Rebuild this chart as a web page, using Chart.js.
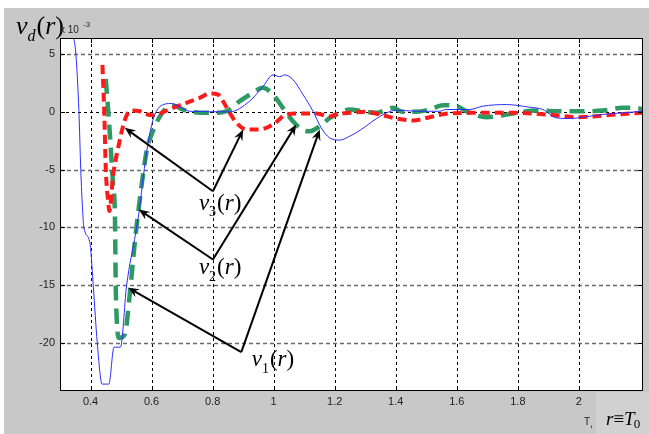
<!DOCTYPE html>
<html><head><meta charset="utf-8">
<script src="https://cdn.jsdelivr.net/npm/chart.js@4/dist/chart.umd.min.js"></script>
<style>html,body{margin:0;padding:0;background:#fff;}canvas{display:block;}</style>
</head><body>
<canvas id="c" width="649" height="434"></canvas>
<script>
// ---- data ----
const xTicks = [0.4, 0.6, 0.8, 1.0, 1.2, 1.4, 1.6, 1.8, 2.0];
const yTicks = [-20, -15, -10, -5, 0, 5];

const nu1X = [0.342,0.352,0.362,0.368,0.374,0.378,0.398,0.409,0.422,0.438,0.460,0.477,0.498,0.518,0.548,0.561,0.572,0.589,0.600,0.608,0.627,0.665,0.703,0.725,0.856,0.921,0.965,0.998,1.020,1.036,1.063,1.096,1.129,1.156,1.183,1.216,1.250,1.287,1.325,1.369,1.402,1.467,1.543,1.565,1.642,1.685,1.762,1.838,1.882,1.925,1.970,2.012,2.078,2.143,2.209];
const nu1Y = [6.8,5.0,0.0,-5.0,-8.5,-10.0,-11.35,-15.1,-20.0,-23.6,-23.6,-20.4,-20.4,-15.1,-10.5,-8.3,-5.8,-2.6,-1.2,-0.4,0.45,0.72,0.26,0.05,0.0,0.92,2.2,3.2,3.05,3.2,2.8,1.5,0.05,-1.4,-2.25,-2.45,-2.1,-1.53,-0.8,-0.1,0.14,0.05,0.05,0.2,0.2,0.49,0.63,0.4,0.2,-0.52,-0.58,-0.47,-0.23,-0.09,0.05];

const nu2X = [0.450,0.463,0.474,0.480,0.483,0.494,0.512,0.529,0.545,0.559,0.585,0.594,0.616,0.649,0.670,0.703,0.736,0.801,0.845,0.889,0.932,0.965,0.998,1.030,1.063,1.091,1.118,1.151,1.183,1.216,1.249,1.292,1.336,1.391,1.423,1.467,1.511,1.554,1.598,1.642,1.696,1.751,1.794,1.860,1.947,2.012,2.078,2.143,2.198,2.210];
const nu2Y = [2.86,-1.77,-6.4,-9.0,-15.7,-19.6,-19.3,-15.7,-11.35,-8.1,-3.2,-2.4,-0.95,0.35,0.55,0.2,-0.03,-0.09,0.05,0.92,1.65,2.08,1.5,0.35,-0.81,-1.53,-1.68,-1.25,-0.55,-0.09,0.2,0.05,-0.09,0.35,0.0,0.0,0.2,0.57,0.49,-0.09,-0.47,-0.3,-0.09,0.11,0.05,0.05,0.11,0.35,0.29,0.2];

const nu3X = [0.439,0.445,0.450,0.458,0.462,0.474,0.490,0.507,0.518,0.534,0.561,0.572,0.605,0.627,0.670,0.714,0.758,0.790,0.818,0.834,0.856,0.878,0.911,0.954,0.998,1.042,1.085,1.140,1.183,1.205,1.249,1.303,1.358,1.402,1.456,1.511,1.565,1.642,1.729,1.794,1.860,1.925,1.990,2.056,2.121,2.209];
const nu3Y = [4.07,-0.03,-4.94,-7.83,-8.6,-5.5,-3.2,-1.19,-0.32,0.11,0.05,-0.1,-0.3,-0.15,0.35,0.78,1.21,1.59,1.5,0.92,-0.09,-0.95,-1.53,-1.53,-1.1,-0.23,-0.15,-0.15,-0.4,-0.23,-0.09,0.0,-0.3,-0.58,-0.75,-0.47,-0.17,-0.09,-0.09,-0.09,-0.17,-0.3,-0.47,-0.38,-0.23,-0.09];

// annotation callouts (data coordinates)
const annSub      = ['3', '2', '1'];
const annVertexX  = [0.801, 0.801, 0.894];
const annVertexY  = [-6.88, -12.8, -20.83];
const annTipAX    = [0.512, 0.558, 0.523];
const annTipAY    = [-1.39, -8.47, -15.25];
const annTipBX    = [0.900, 1.074, 1.151];
const annTipBY    = [-1.53, -1.10, -1.53];
const annLabelX   = [0.755, 0.755, 0.928];
const annLabelY   = [-8.47, -14.1, -22.07];

const pts = (xs, ys) => xs.map((x, i) => ({x, y: ys[i]}));

const SERIF = '"Liberation Serif","DejaVu Serif",serif';
const SANS = '"Liberation Sans",Arial,sans-serif';

function drawNu(ctx, x, y, sub, size, subItalic) {
  ctx.textBaseline = 'alphabetic';
  ctx.textAlign = 'left';
  ctx.font = 'italic ' + size + 'px ' + SERIF;
  ctx.fillText('ν', x, y);
  x += ctx.measureText('ν').width;
  const ss = Math.round(size * 0.62);
  ctx.font = (subItalic ? 'italic ' : '') + ss + 'px ' + SERIF;
  ctx.fillText(sub, x, y + size * 0.28);
  x += ctx.measureText(sub).width + 1;
  ctx.font = size + 'px ' + SERIF;
  ctx.fillText('(', x, y);
  x += ctx.measureText('(').width;
  ctx.font = 'italic ' + size + 'px ' + SERIF;
  ctx.fillText('r', x, y);
  x += ctx.measureText('r').width;
  ctx.font = size + 'px ' + SERIF;
  ctx.fillText(')', x, y);
}

function arrow(ctx, x0, y0, x1, y1) {
  const ang = Math.atan2(y1 - y0, x1 - x0), L = 11, W = 4.5;
  const cx = Math.cos(ang), sy = Math.sin(ang);
  ctx.beginPath();
  ctx.moveTo(x0, y0);
  ctx.lineTo(x1 - 6 * cx, y1 - 6 * sy);
  ctx.stroke();
  ctx.beginPath();
  ctx.moveTo(x1, y1);
  ctx.lineTo(x1 - L * cx + W * sy, y1 - L * sy - W * cx);
  ctx.lineTo(x1 - 0.65 * L * cx, y1 - 0.65 * L * sy);
  ctx.lineTo(x1 - L * cx - W * sy, y1 - L * sy + W * cx);
  ctx.closePath();
  ctx.fill();
}

const decor = {
  id: 'decor',
  beforeDraw(chart) {
    const {ctx, chartArea: a, width, height} = chart;
    ctx.save();
    ctx.fillStyle = '#ffffff'; ctx.fillRect(0, 0, width, height);
    ctx.fillStyle = '#c8c8c8'; ctx.fillRect(4, 8, width - 4, height - 8);
    ctx.fillStyle = '#d1d1d1'; ctx.fillRect(596, a.bottom + 1, width - 596, height - a.bottom - 1);
    ctx.fillStyle = '#ffffff'; ctx.fillRect(a.left, a.top, a.right - a.left, a.bottom - a.top);
    ctx.restore();
  },
  beforeDatasetsDraw(chart) {
    const {ctx, chartArea: a, scales: {x, y}} = chart;
    ctx.save();
    ctx.lineWidth = 1;
    xTicks.forEach(v => {
      const px = Math.round(x.getPixelForValue(v)) + 0.5;
      ctx.strokeStyle = '#000'; ctx.setLineDash([3, 3]);
      ctx.beginPath(); ctx.moveTo(px, a.top); ctx.lineTo(px, a.bottom); ctx.stroke();
    });
    yTicks.forEach(v => {
      const py = Math.round(y.getPixelForValue(v)) + 0.5;
      if (v === 0) { ctx.strokeStyle = '#000'; ctx.lineWidth = 1; ctx.setLineDash([3, 3]); }
      else { ctx.strokeStyle = '#6a6a6a'; ctx.lineWidth = 1.3; ctx.setLineDash([4, 3]); }
      ctx.beginPath(); ctx.moveTo(a.left, py); ctx.lineTo(a.right, py); ctx.stroke();
    });
    ctx.restore();
  },
  afterDatasetsDraw(chart) {
    const {ctx, chartArea: a, scales: {x, y}} = chart;
    ctx.save();
    // frame and inward ticks
    ctx.setLineDash([]);
    ctx.strokeStyle = '#000'; ctx.lineWidth = 1;
    ctx.strokeRect(a.left + 0.5, a.top + 0.5, a.right - a.left - 1, a.bottom - a.top - 1);
    const T = 5;
    ctx.beginPath();
    xTicks.forEach(v => {
      const px = Math.round(x.getPixelForValue(v)) + 0.5;
      ctx.moveTo(px, a.bottom); ctx.lineTo(px, a.bottom - T);
      ctx.moveTo(px, a.top); ctx.lineTo(px, a.top + T);
    });
    yTicks.forEach(v => {
      const py = Math.round(y.getPixelForValue(v)) + 0.5;
      ctx.moveTo(a.left, py); ctx.lineTo(a.left + T, py);
      ctx.moveTo(a.right, py); ctx.lineTo(a.right - T, py);
    });
    ctx.stroke();
    // callouts
    ctx.strokeStyle = '#000'; ctx.fillStyle = '#000'; ctx.lineWidth = 2; ctx.lineJoin = 'miter';
    for (let i = 0; i < annSub.length; i++) {
      const vx = x.getPixelForValue(annVertexX[i]), vy = y.getPixelForValue(annVertexY[i]);
      arrow(ctx, vx, vy, x.getPixelForValue(annTipAX[i]), y.getPixelForValue(annTipAY[i]));
      arrow(ctx, vx, vy, x.getPixelForValue(annTipBX[i]), y.getPixelForValue(annTipBY[i]));
      ctx.fillStyle = '#000';
      drawNu(ctx, x.getPixelForValue(annLabelX[i]), y.getPixelForValue(annLabelY[i]), annSub[i], 23, false);
    }
    ctx.restore();
  },
  afterDraw(chart) {
    const {ctx} = chart;
    ctx.save();
    ctx.fillStyle = '#000';
    drawNu(ctx, 16, 34, 'd', 26, true);
    ctx.fillStyle = '#222';
    ctx.font = '10px ' + SANS; ctx.textBaseline = 'alphabetic'; ctx.textAlign = 'left';
    ctx.fillText('x 10', 60, 33);
    ctx.font = '8px ' + SANS;
    ctx.fillText('-3', 83, 27);
    ctx.font = '10px ' + SANS;
    ctx.fillText('T', 584, 425);
    ctx.fillText(',', 590, 427);
    ctx.fillStyle = '#000';
    ctx.font = 'italic 19px ' + SERIF;
    let px = 606;
    ctx.fillText('r', px, 425); px += ctx.measureText('r').width;
    ctx.font = '19px ' + SERIF;
    ctx.fillText('≡', px, 425); px += ctx.measureText('≡').width;
    ctx.font = 'italic 19px ' + SERIF;
    ctx.fillText('T', px, 425); px += ctx.measureText('T').width - 1;
    ctx.font = '13px ' + SERIF;
    ctx.fillText('0', px, 428);
    ctx.restore();
  }
};

new Chart(document.getElementById('c'), {
  type: 'line',
  data: {
    datasets: [
      { label: 'ν1(r)', data: pts(nu1X, nu1Y), borderColor: 'rgb(45,45,255)', borderWidth: 1,
        pointRadius: 0, fill: false, cubicInterpolationMode: 'monotone' },
      { label: 'ν3(r)', data: pts(nu3X, nu3Y), borderColor: '#ff1a1a', borderWidth: 4,
        borderDash: [9, 5], pointRadius: 0, fill: false, cubicInterpolationMode: 'monotone' },
      { label: 'ν2(r)', data: pts(nu2X, nu2Y), borderColor: '#2e9a63', borderWidth: 4.5,
        borderDash: [15, 8], pointRadius: 0, fill: false, cubicInterpolationMode: 'monotone' }
    ]
  },
  options: {
    responsive: false,
    animation: false,
    devicePixelRatio: 1,
    layout: { padding: { left: 0, top: 38, right: 6, bottom: 0 } },
    plugins: { legend: { display: false }, tooltip: { enabled: false }, title: { display: false } },
    scales: {
      x: {
        type: 'linear', min: 0.3, max: 2.21,
        afterBuildTicks: s => { s.ticks = xTicks.map(v => ({value: v})); },
        afterFit: s => { s.height = 43; },
        grid: { display: false, drawTicks: false },
        border: { display: false },
        ticks: { padding: 4, color: '#222', font: { family: SANS, size: 11 },
                 maxRotation: 0, autoSkip: false,
                 callback: v => String(Math.round(v * 10) / 10) }
      },
      y: {
        type: 'linear', min: -24.2, max: 6.4,
        afterBuildTicks: s => { s.ticks = yTicks.map(v => ({value: v})); },
        afterFit: s => { s.width = 60; },
        grid: { display: false, drawTicks: false },
        border: { display: false },
        ticks: { padding: 5, color: '#222', font: { family: SANS, size: 11 }, autoSkip: false,
                 callback: v => String(v) }
      }
    }
  },
  plugins: [decor]
});
</script>
</body></html>
